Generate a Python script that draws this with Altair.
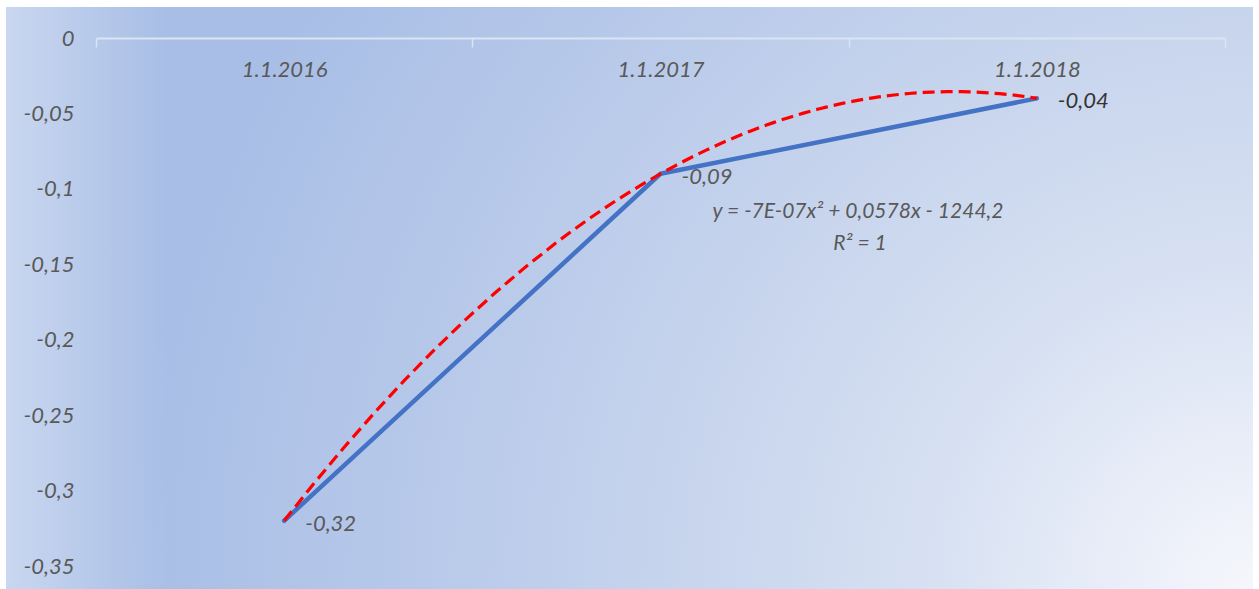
import json
import altair as alt
import pandas as pd

# --- chart data -----------------------------------------------------------
dates = ["1.1.2016", "1.1.2017", "1.1.2018"]
values = [-0.32, -0.09, -0.04]
y_ticks = [0, -0.05, -0.1, -0.15, -0.2, -0.25, -0.3, -0.35]
equation = "y = -7E-07x² + 0,0578x - 1244,2"
r_squared = "R² = 1"

# --- layout ----------------------------------------------------------------
W, H = 1129, 528
PAD = {"left": 96, "top": 38, "right": 34, "bottom": 23}
FONT = "Lato"
GREY = "#595959"
FS = 22

points = pd.DataFrame({"idx": list(range(len(dates))), "date": dates, "value": values})
single = pd.DataFrame({"k": [0]})

# category axis: ticks on the boundaries between categories, labels on the categories
x_values = [i * 0.5 - 0.5 for i in range(2 * len(dates) + 1)]
x_axis = alt.Axis(
    title=None,
    orient="bottom",
    offset=-H,
    zindex=2,
    values=x_values,
    labelExpr=f"datum.value % 1 == 0 ? {json.dumps(dates)}[datum.value] : ''",
    labelOverlap=False,
    labelFont=FONT,
    labelFontStyle="italic",
    labelFontSize=FS,
    labelColor=GREY,
    labelPadding=12,
    tickSize=9,
    tickWidth=1.5,
    tickColor="#dbe4f3",
    tickOpacity={"condition": {"test": "datum.value % 1 != 0", "value": 1}, "value": 0},
    domainColor="#dbe4f3",
    domainWidth=2,
    grid=False,
)
y_axis = alt.Axis(
    title=None,
    zindex=2,
    values=y_ticks,
    labelExpr="replace(toString(datum.value), '.', ',')",
    labelFont=FONT,
    labelFontStyle="italic",
    labelFontSize=FS,
    labelColor=GREY,
    labelPadding=22,
    domain=False,
    ticks=False,
    grid=False,
)
x_scale = alt.Scale(domain=[-0.5, len(dates) - 0.5], nice=False, zero=False)
y_scale = alt.Scale(domain=[-0.35, 0], nice=False, zero=False)

X = alt.X("idx:Q", scale=x_scale, axis=x_axis)
Y = alt.Y("value:Q", scale=y_scale, axis=y_axis)

# chart-area fill: circular wash from the lower-right corner (square box keeps it round)
area_left = -PAD["left"] + 6
area_right = W + PAD["right"] - 6
area_top = -PAD["top"] + 7
area_bottom = H + PAD["bottom"]
side = area_right - area_left

background = alt.Chart(single).mark_rect(
    fill={
        "gradient": "radial",
        "x1": 1, "y1": 1, "r1": 0,
        "x2": 1, "y2": 1, "r2": 0.9,
        "stops": [
            {"offset": 0, "color": "#f6f7fc"},
            {"offset": 0.3, "color": "#d6e0f2"},
            {"offset": 0.5, "color": "#c8d5ed"},
            {"offset": 0.72, "color": "#b9caea"},
            {"offset": 1, "color": "#a8bee6"},
        ],
    }
).encode(
    x=alt.value(area_left),
    x2=alt.value(area_right),
    y=alt.value(area_bottom - side),
    y2=alt.value(area_bottom),
)

# white margin above the chart area
top_margin = alt.Chart(single).mark_rect(fill="#ffffff").encode(
    x=alt.value(-PAD["left"]),
    x2=alt.value(W + PAD["right"]),
    y=alt.value(area_bottom - side - 10),
    y2=alt.value(area_top),
)

left_glow = alt.Chart(single).mark_rect(
    fill={
        "gradient": "linear",
        "x1": 0, "y1": 0, "x2": 0.13, "y2": 0,
        "stops": [
            {"offset": 0, "color": "rgba(255,255,255,0.38)"},
            {"offset": 1, "color": "rgba(255,255,255,0)"},
        ],
    }
).encode(
    x=alt.value(area_left),
    x2=alt.value(area_right),
    y=alt.value(area_top),
    y2=alt.value(area_bottom),
)

series = alt.Chart(points).mark_line(
    color="#4472c4", strokeWidth=4.5, strokeCap="round", strokeJoin="round"
).encode(x=X, y=Y)

trend = alt.Chart(points).transform_regression(
    "idx", "value", method="poly", order=2
).mark_line(
    color="#ff0000", strokeWidth=3.2, strokeDash=[12, 6]
).encode(x=X, y=Y)

labels = alt.Chart(points).transform_calculate(
    label="replace(toString(datum.value), '.', ',')"
).mark_text(
    align="left", baseline="middle", dx=21, dy=3,
    font=FONT, fontStyle="italic", fontSize=FS,
).encode(
    x=X,
    y=Y,
    text="label:N",
    color=alt.condition(
        alt.datum.idx == len(dates) - 1, alt.value("#333333"), alt.value(GREY)
    ),
)

eq_text = alt.Chart(single).mark_text(
    align="center", baseline="middle",
    font=FONT, fontStyle="italic", fontSize=21, color=GREY,
).encode(x=alt.value(762), y=alt.value(174), text=alt.value(equation))

r2_text = alt.Chart(single).mark_text(
    align="center", baseline="middle",
    font=FONT, fontStyle="italic", fontSize=21, color=GREY,
).encode(x=alt.value(764), y=alt.value(206), text=alt.value(r_squared))

chart = alt.layer(
    background, top_margin, left_glow, series, trend, labels, eq_text, r2_text
).properties(
    width=W,
    height=H,
    autosize=alt.AutoSizeParams(type="none"),
    padding=PAD,
    background="#ffffff",
).configure_view(stroke=None)

chart.save("out.html", embed_options={"renderer": "svg", "actions": False})
